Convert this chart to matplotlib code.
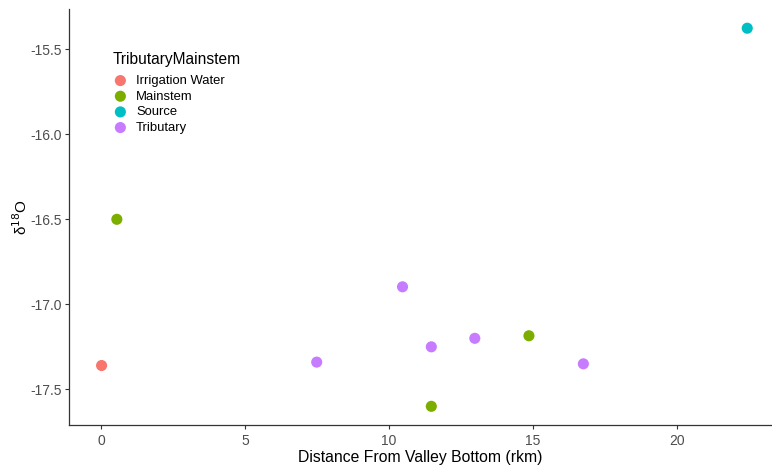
import matplotlib.pyplot as plt

plt.rcParams['font.family'] = ['Liberation Sans', 'DejaVu Sans']

# values
groups = ['Irrigation Water', 'Mainstem', 'Source', 'Tributary']
colors = ['#F8766D', '#7CAE00', '#00BFC4', '#C77CFF']

irrigation_x = [0.02]
irrigation_y = [-17.36]
mainstem_x = [0.55, 11.47, 14.86]
mainstem_y = [-16.50, -17.60, -17.185]
source_x = [22.44]
source_y = [-15.376]
tributary_x = [7.49, 10.47, 11.47, 12.98, 16.75]
tributary_y = [-17.34, -16.897, -17.25, -17.20, -17.35]

xs = [irrigation_x, mainstem_x, source_x, tributary_x]
ys = [irrigation_y, mainstem_y, source_y, tributary_y]

fig = plt.figure(figsize=(7.72, 4.67), dpi=100)
ax = fig.add_axes([0.0898, 0.0895, 0.9102, 0.8905])

for name, col, x, y in zip(groups, colors, xs, ys):
    ax.scatter(x, y, s=64, color=col, edgecolors='none', label=name, zorder=3)

ax.set_xlim(-1.10, 23.30)
ax.set_ylim(-17.711, -15.265)
ax.set_xticks([0, 5, 10, 15, 20])
ax.set_yticks([-17.5, -17.0, -16.5, -16.0, -15.5])
ax.set_yticklabels(['-17.5', '-17.0', '-16.5', '-16.0', '-15.5'])

for side in ['top', 'right']:
    ax.spines[side].set_visible(False)
for side in ['left', 'bottom']:
    ax.spines[side].set_color('#333333')
    ax.spines[side].set_linewidth(0.9)

ax.tick_params(axis='both', colors='#333333', length=3, width=0.8,
               labelsize=10, labelcolor='#4d4d4d', pad=2.5)
ax.tick_params(axis='x', pad=3.0)

ax.set_xlabel('Distance From Valley Bottom (rkm)', fontsize=11.3, labelpad=2)
ax.set_ylabel(r'δ$^{18}$O', fontsize=11, labelpad=0)

leg = ax.legend(title='TributaryMainstem', loc='upper left',
                bbox_to_anchor=(106 / 772, 1 - 45 / 467),
                bbox_transform=fig.transFigure,
                frameon=False, fontsize=9.4, title_fontsize=11.2,
                handlelength=1.2, handletextpad=0.6, labelspacing=0.27,
                borderpad=0, markerscale=1.0, scatterpoints=1)
leg._legend_box.align = 'left'
leg._legend_box.sep = 6

fig.savefig('out.png', dpi=100)
